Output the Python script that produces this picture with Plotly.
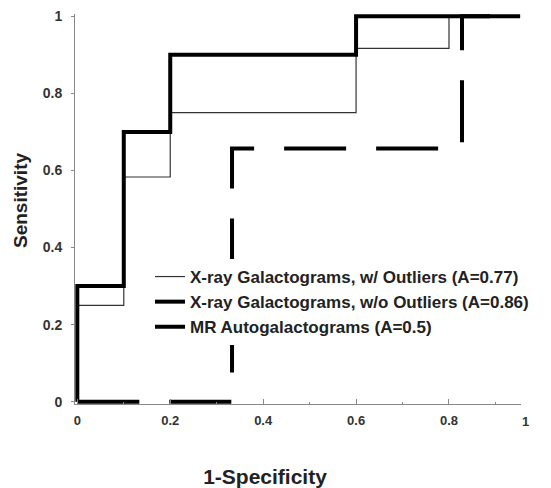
import plotly.graph_objects as go

# ROC step curves (x = 1-Specificity, y = Sensitivity)
with_outliers_x = [0, 0, 0.1, 0.1, 0.2, 0.2, 0.6, 0.6, 0.8, 0.8, 0.953]
with_outliers_y = [0, 0.25, 0.25, 0.583, 0.583, 0.75, 0.75, 0.917, 0.917, 1, 1]

without_outliers_x = [0, 0, 0.1, 0.1, 0.2, 0.2, 0.6, 0.6, 0.953]
without_outliers_y = [0, 0.3, 0.3, 0.7, 0.7, 0.9, 0.9, 1, 1]

mr_x = [0, 0.333, 0.333, 0.828, 0.828, 0.953]
mr_y = [0, 0, 0.657, 0.657, 1, 1]

names = [
    "X-ray Galactograms, w/ Outliers (A=0.77)",
    "X-ray Galactograms, w/o Outliers (A=0.86)",
    "MR Autogalactograms (A=0.5)",
]

x_tickvals = [0, 0.2, 0.4, 0.6, 0.8]
x_ticktext = ["0", "0.2", "0.4", "0.6", "0.8"]
y_tickvals = [0, 0.2, 0.4, 0.6, 0.8, 1]
y_ticktext = ["0", "0.2", "0.4", "0.6", "0.8", "1"]

FONT = "Liberation Sans, Arial, sans-serif"
OFF = 8  # default page body margin
W, H = 551 - OFF, 488 - OFF
L, R, T, B = 75 - OFF, 30, 14 - OFF, 84
pw, ph = W - L - R, H - T - B


def px_to_paper(px, py):
    # screen pixel -> paper coordinates
    return (px - OFF - L) / pw, (H - B - (py - OFF)) / ph


fig = go.Figure()
fig.add_trace(go.Scatter(x=with_outliers_x, y=with_outliers_y, mode="lines", name=names[0],
                         line=dict(color="#333333", width=1.2)))
fig.add_trace(go.Scatter(x=without_outliers_x, y=without_outliers_y, mode="lines", name=names[1],
                         line=dict(color="black", width=4)))
fig.add_trace(go.Scatter(x=mr_x, y=mr_y, mode="lines", name=names[2],
                         line=dict(color="black", width=4, dash="62px,30px")))

lx, ly = px_to_paper(150, 259)
fig.update_layout(
    width=W, height=H, autosize=False,
    margin=dict(l=L, r=R, t=T, b=B, autoexpand=False),
    paper_bgcolor="white", plot_bgcolor="white",
    font=dict(family=FONT, color="#222222"),
    showlegend=True,
    title=dict(text="1-Specificity", x=(265 - OFF) / W, y=1 - (477 - OFF) / H,
               xref="container", yref="container", xanchor="center", yanchor="middle",
               font=dict(family=FONT, size=21, weight="bold", color="#222222")),
    legend=dict(x=lx, y=ly, xanchor="left", yanchor="top",
                bgcolor="white", borderwidth=0,
                font=dict(family=FONT, size=17, weight="bold", color="#222222"),
                tracegroupgap=0),
    xaxis=dict(range=[-0.005, 0.955], showgrid=False, zeroline=False, automargin=False,
               showline=True, linecolor="#888888", linewidth=1,
               tickvals=x_tickvals, ticktext=x_ticktext,
               ticks="inside", ticklen=5, tickcolor="#888888",
               ticklabelstandoff=4,
               tickfont=dict(family=FONT, size=13, weight="bold", color="#333333"),
               minor=dict(tickvals=[0.1, 0.3, 0.5, 0.7, 0.9], ticks="inside", ticklen=2, tickcolor="#888888")),
    yaxis=dict(range=[-0.006, 1.006], showgrid=False, zeroline=False, automargin=False,
               showline=True, linecolor="#888888", linewidth=1,
               tickvals=y_tickvals, ticktext=y_ticktext,
               ticks="outside", ticklen=3, tickcolor="#888888",
               ticklabelstandoff=6,
               tickfont=dict(family=FONT, size=14, weight="bold", color="#333333")),
)

ax, ay = px_to_paper(525, 421)
fig.add_annotation(x=ax, y=ay, xref="paper", yref="paper", text="1", showarrow=False,
                   xanchor="center", yanchor="middle",
                   font=dict(family=FONT, size=13, weight="bold", color="#333333"))
sx, sy = px_to_paper(21, 201)
fig.add_annotation(x=sx, y=sy, xref="paper", yref="paper", text="Sensitivity", showarrow=False,
                   xanchor="center", yanchor="middle", textangle=-90, borderpad=0,
                   font=dict(family=FONT, size=19, weight="bold", color="#222222"))

fig.write_html("out.html")
